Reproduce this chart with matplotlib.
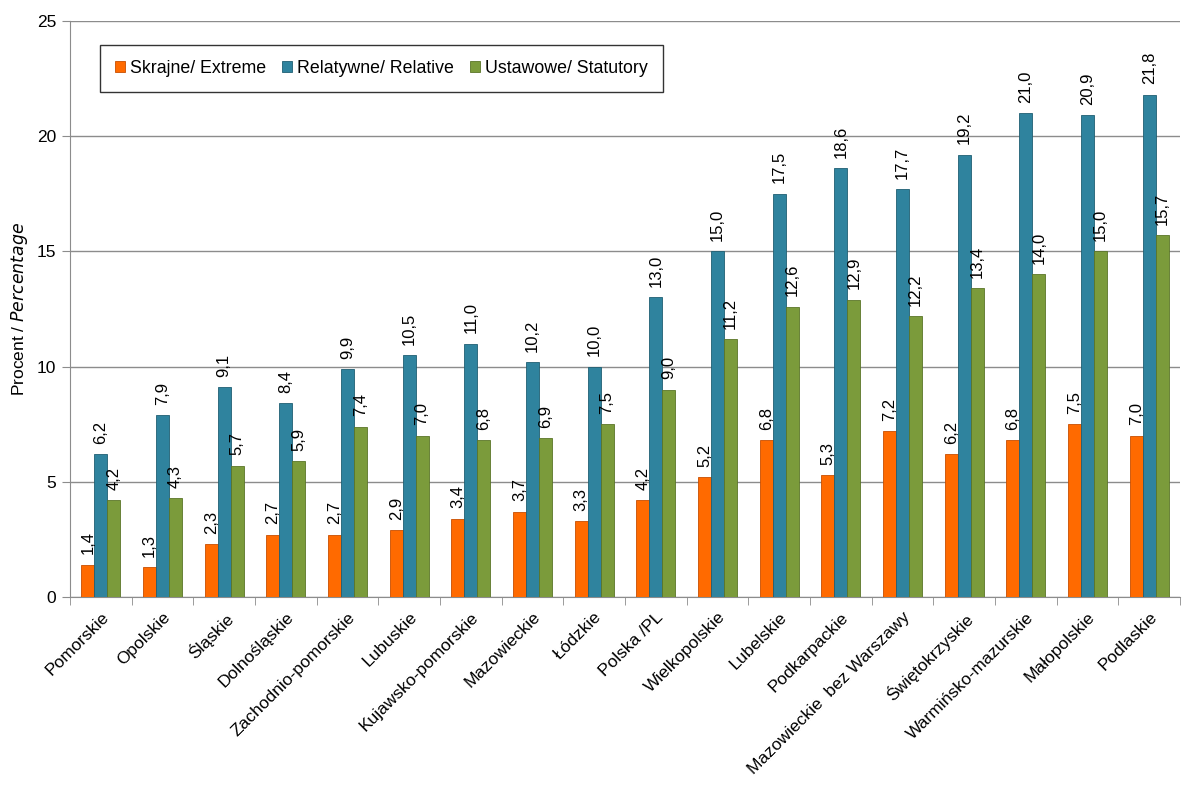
import matplotlib
matplotlib.use("Agg")
import matplotlib.pyplot as plt
import numpy as np

plt.rcParams['font.family'] = ['Liberation Sans', 'DejaVu Sans']

categories = ["Pomorskie", "Opolskie", "Śląskie", "Dolnośląskie", "Zachodnio-pomorskie",
              "Lubuskie", "Kujawsko-pomorskie", "Mazowieckie", "Łódzkie", "Polska /PL",
              "Wielkopolskie", "Lubelskie", "Podkarpackie", "Mazowieckie  bez Warszawy",
              "Świętokrzyskie", "Warmińsko-mazurskie", "Małopolskie", "Podlaskie"]
extreme = [1.4, 1.3, 2.3, 2.7, 2.7, 2.9, 3.4, 3.7, 3.3, 4.2, 5.2, 6.8, 5.3, 7.2, 6.2, 6.8, 7.5, 7.0]
relative = [6.2, 7.9, 9.1, 8.4, 9.9, 10.5, 11.0, 10.2, 10.0, 13.0, 15.0, 17.5, 18.6, 17.7, 19.2, 21.0, 20.9, 21.8]
statutory = [4.2, 4.3, 5.7, 5.9, 7.4, 7.0, 6.8, 6.9, 7.5, 9.0, 11.2, 12.6, 12.9, 12.2, 13.4, 14.0, 15.0, 15.7]
series_names = ["Skrajne/ Extreme", "Relatywne/ Relative", "Ustawowe/ Statutory"]
colors = ["#FF6A00", "#2F839E", "#7B9B3B"]
edges = ["#C84E00", "#1F5F73", "#5A7528"]

fig = plt.figure(figsize=(11.83, 7.87), dpi=100)
ax = fig.add_axes([70/1183, 1-597/787, (1180-70)/1183, (597-21)/787])

x = np.arange(len(categories))
w = 0.21
for i, (vals, name) in enumerate(zip([extreme, relative, statutory], series_names)):
    pos = x + (i - 1) * w
    ax.bar(pos, vals, width=w, color=colors[i], edgecolor=edges[i], linewidth=0.6,
           label=name, zorder=3)
    for px, v in zip(pos, vals):
        ax.text(px, v + 0.45, f"{v:.1f}".replace(".", ","), rotation=90,
                ha='center', va='bottom', fontsize=12, zorder=4)

ax.set_xlim(-0.5, len(categories) - 0.5)
ax.set_ylim(0, 25)
ax.set_yticks([0, 5, 10, 15, 20, 25])
ax.yaxis.grid(True, color='#8c8c8c', linewidth=1.0, zorder=0)
ax.set_axisbelow(True)
for s in ['top', 'right']:
    ax.spines[s].set_visible(False)
for s in ['left', 'bottom']:
    ax.spines[s].set_color('#8c8c8c')
ax.tick_params(axis='y', colors='#8c8c8c', labelcolor='black', labelsize=12.5, length=6, pad=4)
ax.set_xticks(x)
ax.set_xticklabels(categories, rotation=45, ha='right', rotation_mode='anchor', fontsize=12.5)
ax.tick_params(axis='x', length=0, pad=9)
ax.set_xticks(np.arange(-0.5, len(categories) + 0.5, 1), minor=True)
ax.tick_params(axis='x', which='minor', length=6, color='#8c8c8c')

fig.text(20/1183, 1-309/787, "Procent / $\\it{Percentage}$", rotation=90,
         ha='center', va='center', fontsize=12.5)

leg = ax.legend(loc='upper left', bbox_to_anchor=(30/1110, 1-24/576), ncol=3, frameon=True,
                fancybox=False, edgecolor='black', fontsize=12.8, handlelength=0.55,
                handleheight=0.55, handletextpad=0.3, columnspacing=0.9,
                borderpad=0.85, borderaxespad=0)
leg.get_frame().set_linewidth(1.0)

fig.savefig("out.png", dpi=100)
